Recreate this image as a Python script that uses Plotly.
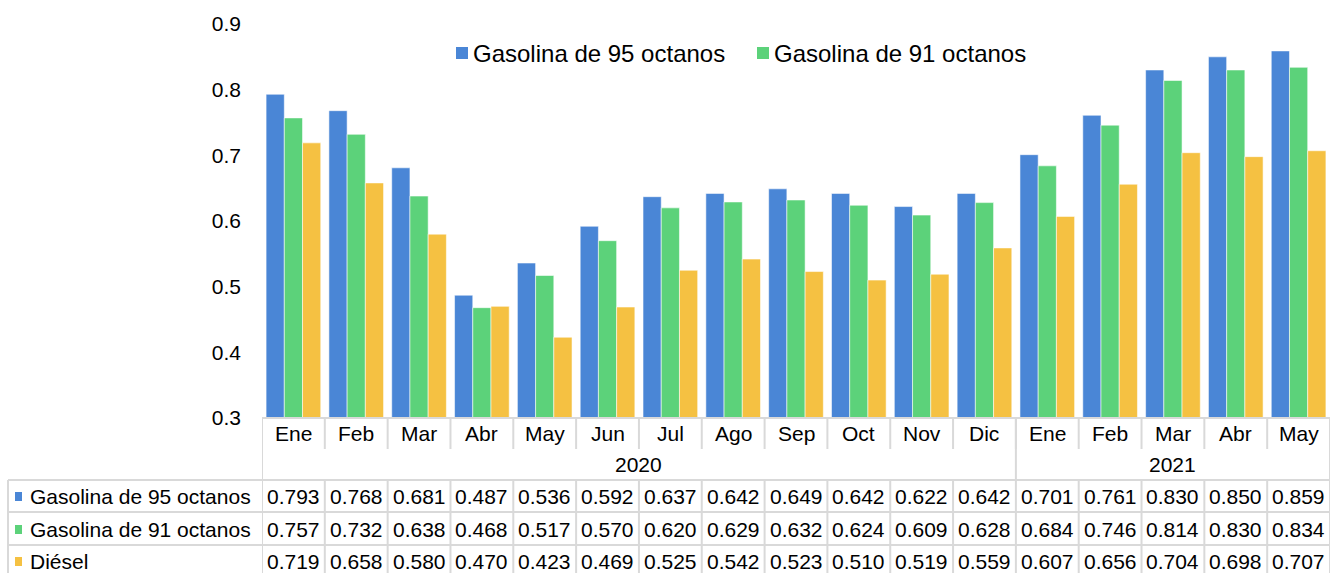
import plotly.graph_objects as go

months = ["Ene", "Feb", "Mar", "Abr", "May", "Jun", "Jul", "Ago", "Sep", "Oct", "Nov", "Dic",
          "Ene", "Feb", "Mar", "Abr", "May"]
years = ["2020", "2021"]
year_counts = [12, 5]
series_names = ["Gasolina de 95 octanos", "Gasolina de 91 octanos", "Diésel"]
g95 = [0.793, 0.768, 0.681, 0.487, 0.536, 0.592, 0.637, 0.642, 0.649, 0.642, 0.622, 0.642,
       0.701, 0.761, 0.830, 0.850, 0.859]
g91 = [0.757, 0.732, 0.638, 0.468, 0.517, 0.570, 0.620, 0.629, 0.632, 0.624, 0.609, 0.628,
       0.684, 0.746, 0.814, 0.830, 0.834]
diesel = [0.719, 0.658, 0.580, 0.470, 0.423, 0.469, 0.525, 0.542, 0.523, 0.510, 0.519, 0.559,
          0.607, 0.656, 0.704, 0.698, 0.707]
series_values = [g95, g91, diesel]
colors = ["#4A86D6", "#5CD27A", "#F5C142"]
legend_shown = [True, True, False]
yticks = [0.3, 0.4, 0.5, 0.6, 0.7, 0.8, 0.9]

W, H = 1334, 573
L, R, T, B = 262, 4, 24, 155
PW = W - L - R
PH = H - T - B
FONT = "Liberation Sans, Arial, sans-serif"
GRID = "#D9D9D9"
TXT = 21


def xp(px):
    return (px - L) / PW


def yp(py):
    return (H - B - py) / PH


n = len(months)
xs = list(range(n))

fig = go.Figure()
for name, vals, col in zip(series_names, series_values, colors):
    fig.add_trace(go.Bar(x=xs, y=vals, name=name, marker_color=col,
                         marker_line=dict(color="rgba(255,255,255,0.55)", width=1),
                         showlegend=False))

shapes = []
ann = []

top_y, month_bot, hdr_bot = 418, 449, 480
row_y = [480, 512, 545, 578]
line = dict(color=GRID, width=2)
shapes.append(dict(type="line", xref="paper", yref="paper", x0=0, x1=1,
                   y0=yp(top_y), y1=yp(top_y), line=line))
for ry in row_y:
    shapes.append(dict(type="line", xref="paper", yref="paper", x0=xp(8), x1=1,
                       y0=yp(ry), y1=yp(ry), line=line))
for i in range(n + 1):
    bx = i - 0.5
    shapes.append(dict(type="line", xref="x", yref="paper", x0=bx, x1=bx,
                       y0=yp(top_y), y1=yp(month_bot), line=line))
    shapes.append(dict(type="line", xref="x", yref="paper", x0=bx, x1=bx,
                       y0=yp(hdr_bot), y1=yp(H + 5), line=line))
start = 0
bounds = [0]
for c in year_counts:
    start += c
    bounds.append(start)
for b in bounds:
    shapes.append(dict(type="line", xref="x", yref="paper", x0=b - 0.5, x1=b - 0.5,
                       y0=yp(top_y), y1=yp(hdr_bot), line=line))
shapes.append(dict(type="line", xref="paper", yref="paper", x0=xp(8), x1=xp(8),
                   y0=yp(hdr_bot), y1=yp(H + 5), line=line))

for i, m in enumerate(months):
    ann.append(dict(x=i, y=yp(434), xref="x", yref="paper", text=m, showarrow=False,
                    xanchor="center", yanchor="middle", font=dict(size=TXT, color="#000")))
for k, yr in enumerate(years):
    cx = (bounds[k] + bounds[k + 1] - 1) / 2
    ann.append(dict(x=cx, y=yp(464), xref="x", yref="paper", text=yr, showarrow=False,
                    xanchor="center", yanchor="middle", font=dict(size=TXT, color="#000")))
row_centers = [496, 529, 561]
for r, (name, vals, col) in enumerate(zip(series_names, series_values, colors)):
    cy = row_centers[r]
    shapes.append(dict(type="rect", xref="paper", yref="paper", x0=xp(15), x1=xp(22),
                       y0=yp(cy + 5), y1=yp(cy - 4), fillcolor=col, line=dict(width=0)))
    ann.append(dict(x=xp(28), y=yp(cy), xref="paper", yref="paper", text=name,
                    showarrow=False, xanchor="left", yanchor="middle",
                    font=dict(size=TXT, color="#000")))
    for i, v in enumerate(vals):
        ann.append(dict(x=i, y=yp(cy), xref="x", yref="paper", text=f"{v:.3f}",
                        showarrow=False, xanchor="center", yanchor="middle",
                        font=dict(size=TXT, color="#000")))

leg_x = [456, 757]
leg_y = 53
leg_items = [(n_, c_) for n_, c_, s_ in zip(series_names, colors, legend_shown) if s_]
for (name, col), lx in zip(leg_items, leg_x):
    shapes.append(dict(type="rect", xref="paper", yref="paper", x0=xp(lx), x1=xp(lx + 12),
                       y0=yp(leg_y + 6), y1=yp(leg_y - 6), fillcolor=col, line=dict(width=0)))
    ann.append(dict(x=xp(lx + 15), y=yp(leg_y), xref="paper", yref="paper", text=name,
                    showarrow=False, xanchor="left", yanchor="middle",
                    font=dict(size=24, color="#000")))

fig.update_layout(
    width=W, height=H, autosize=False,
    margin=dict(l=L, r=R, t=T, b=B, pad=0),
    paper_bgcolor="white", plot_bgcolor="white",
    font=dict(family=FONT, color="#000"),
    barmode="group", bargap=0.13, bargroupgap=0,
    showlegend=False,
    shapes=shapes, annotations=ann,
    xaxis=dict(range=[-0.5, n - 0.5], showticklabels=False, showgrid=False,
               zeroline=False, showline=False, ticks=""),
    yaxis=dict(range=[0.3, 0.9], tickvals=yticks, tickformat=".1f", showgrid=False,
               zeroline=False, showline=False, ticks="", ticklabelstandoff=20,
               tickfont=dict(size=21, color="#000")),
)

fig.write_html("out.html", config={"displayModeBar": False},
               post_script="document.body.style.margin='0px';document.body.style.overflow='hidden';")
